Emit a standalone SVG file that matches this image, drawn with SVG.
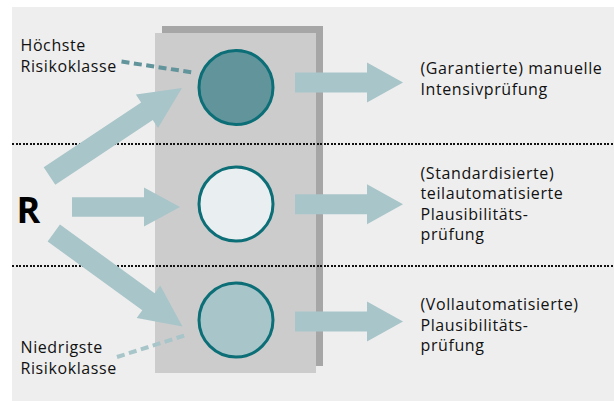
<svg xmlns="http://www.w3.org/2000/svg" width="614" height="401" viewBox="0 0 614 401">
<defs>
<style>
.lbl{font-family:"Open Sans","Noto Sans","Liberation Sans",sans-serif;font-size:16px;fill:#111;letter-spacing:0.6px}
.arr{fill:#a8c5c9}
.dot{stroke:#111;stroke-width:2;stroke-dasharray:2 1.5;fill:none;shape-rendering:crispEdges}
.circ{stroke:#0c6e76;stroke-width:3}
</style>
<polygon id="harrow" points="0,-10 72,-10 72,-20 108,0 72,20 72,10 0,10"/>
<polygon id="darrow" points="0,-10.5 117,-10.5 117,-20 159,0 117,20 117,10.5 0,10.5"/>
</defs>
<rect x="0" y="0" width="614" height="401" fill="#ffffff"/>
<rect x="12" y="7" width="602" height="394" fill="#eeeeee"/>
<g id="traffic-light">
<rect x="162" y="26" width="161" height="340" fill="#a6a6a6"/>
<rect x="155" y="33" width="161" height="340" fill="#cccccc"/>
</g>
<g id="separators">
<line class="dot" x1="12" y1="144" x2="614" y2="144"/>
<line class="dot" x1="12" y1="266" x2="614" y2="266"/>
</g>
<g id="connectors">
<use href="#darrow" class="arr" transform="translate(49.5,176) rotate(-33.6)"/>
<use href="#harrow" class="arr" transform="translate(72,207) scale(1,0.98)"/>
<use href="#darrow" class="arr" transform="translate(53.8,233) rotate(36)"/>
<use href="#harrow" class="arr" transform="translate(295,82.5)"/>
<use href="#harrow" class="arr" transform="translate(295,204.3)"/>
<use href="#harrow" class="arr" transform="translate(295,321.5)"/>
<line x1="121.5" y1="61.5" x2="193" y2="72.5" stroke="#62949c" stroke-width="4" stroke-dasharray="8 4.5"/>
<line x1="117" y1="357" x2="186" y2="335" stroke="#a8c5c9" stroke-width="4" stroke-dasharray="8 4.5"/>
</g>
<g id="node-high">
<circle class="circ" cx="236" cy="87.5" r="37" fill="#62949c"/>
</g>
<g id="node-mid">
<circle class="circ" cx="236" cy="204" r="37" fill="#e9eef0"/>
</g>
<g id="node-low">
<circle class="circ" cx="236" cy="320" r="37" fill="#a8c5c9"/>
</g>
<g id="node-R">
<text x="16.5" y="222.5" font-family="'Open Sans','Noto Sans','Liberation Sans',sans-serif" font-size="36" font-weight="bold" fill="#000">R</text>
</g>
<g id="label-high">
<text class="lbl" x="20.5" y="50.5">Höchste</text>
<text class="lbl" x="20.5" y="71.5">Risikoklasse</text>
</g>
<g id="label-low">
<text class="lbl" x="20.5" y="353.3">Niedrigste</text>
<text class="lbl" x="20.5" y="374">Risikoklasse</text>
</g>
<g id="text-high">
<text class="lbl" x="420.5" y="74">(Garantierte) manuelle</text>
<text class="lbl" x="420.5" y="95">Intensivprüfung</text>
</g>
<g id="text-mid">
<text class="lbl" x="420.5" y="178.5">(Standardisierte)</text>
<text class="lbl" x="420.5" y="199">teilautomatisierte</text>
<text class="lbl" x="420.5" y="219.5">Plausibilitäts-</text>
<text class="lbl" x="420.5" y="240">prüfung</text>
</g>
<g id="text-low">
<text class="lbl" x="420.5" y="310">(Vollautomatisierte)</text>
<text class="lbl" x="420.5" y="330.5">Plausibilitäts-</text>
<text class="lbl" x="420.5" y="351">prüfung</text>
</g>
</svg>
